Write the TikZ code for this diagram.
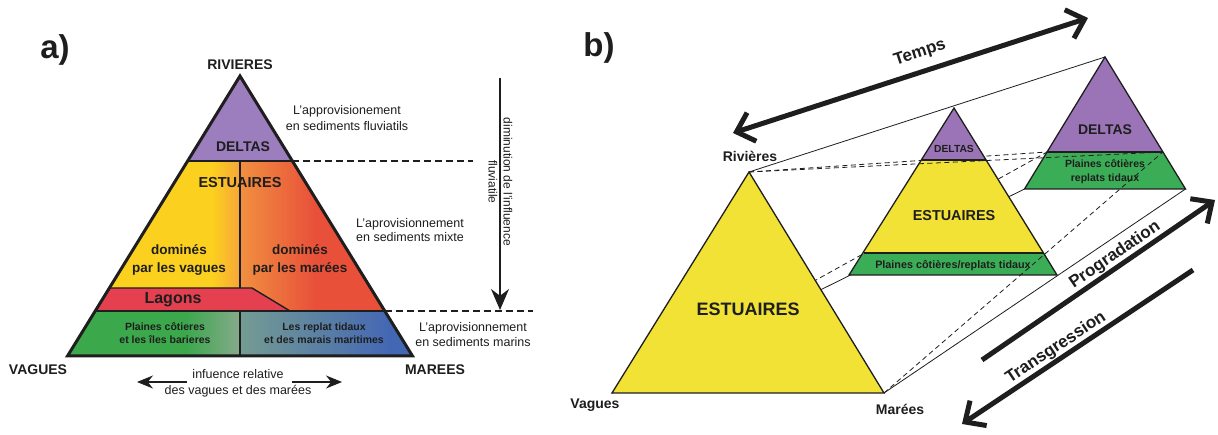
\documentclass[tikz,border=0pt]{standalone}
\usepackage{fontspec}
\setmainfont{Liberation Sans}
\usetikzlibrary{arrows.meta}
\newcommand{\myfs}[2]{\fontsize{#1}{#2}\selectfont}
\definecolor{apurple}{HTML}{9C7DBE}
\definecolor{ayellow}{HTML}{FCD01E}
\definecolor{aorangeL}{HTML}{F6A63A}
\definecolor{aorangeR}{HTML}{F19040}
\definecolor{ared}{HTML}{E8503A}
\definecolor{lagon}{HTML}{E4404F}
\definecolor{agreen}{HTML}{3BA84C}
\definecolor{agreenmid}{HTML}{86A98B}
\definecolor{ablmid}{HTML}{749C92}
\definecolor{ablue}{HTML}{4467B4}
\definecolor{byellow}{HTML}{F1E235}
\definecolor{bpurple}{HTML}{9A74B6}
\definecolor{bgreen}{HTML}{3CAD57}
\definecolor{ink}{HTML}{1E1E1E}
\tikzset{
  barb/.tip={Straight Barb[length=16pt,width=30pt]},
  smallhead/.tip={Stealth[length=16pt,width=13pt]},
  bighead/.tip={Stealth[length=21pt,width=18pt]}
}
\begin{document}
\begin{tikzpicture}[x=1pt,y=-1pt,
  txt/.style={inner sep=0pt, text=ink},
  tri/.style={draw=ink, line width=3pt, line join=miter},
  innerline/.style={draw=ink, line width=1.4pt},
  dashA/.style={draw=ink, line width=1.5pt, dash pattern=on 7pt off 4pt},
  conn/.style={draw=ink, line width=0.8pt},
  connd/.style={draw=ink, line width=0.8pt, dash pattern=on 5pt off 3.5pt},
  btri/.style={draw=ink, line width=1.3pt, line join=miter},
  bband/.style={draw=ink, line width=1.6pt},
  bigarrow/.style={draw=ink, line width=5pt}
]
\useasboundingbox (0,0) rectangle (1218,435);
\fill[white] (0,0) rectangle (1218,435);

% ---------------- panel a ----------------
\coordinate (aT) at (240,76);
\coordinate (aL) at (67.5,356);
\coordinate (aR) at (412.5,356);
\coordinate (dL) at (187.63,161);
\coordinate (dR) at (292.37,161);
\coordinate (gL) at (95.22,311);
\coordinate (gR) at (384.78,311);
\coordinate (lL) at (109.4,288);
\coordinate (lM) at (252,288);
\coordinate (lE) at (290,311);
\coordinate (dvT) at (240,161);
\coordinate (dvB) at (240,288);
\coordinate (bvT) at (240,311);
\coordinate (bvB) at (240,356);
\coordinate (dashE1) at (473,161);
\coordinate (dashE2) at (533,311);
\coordinate (vaTop) at (500,78);
\coordinate (vaTip) at (500,310);
\coordinate (hl1) at (187,382);
\coordinate (hl2) at (137,382);
\coordinate (hr1) at (292,382);
\coordinate (hr2) at (342,382);

\fill[apurple] (aT) -- (dL) -- (dR) -- cycle;
\begin{scope}
  \clip (dL) -- (dR) -- (gR) -- (gL) -- cycle;
  \fill[ayellow] (60,150) rectangle (212,320);
  \shade[left color=ayellow,right color=aorangeL] (212,150) rectangle (240,320);
  \shade[left color=aorangeR,right color=ared] (240,150) rectangle (315,320);
  \fill[ared] (315,150) rectangle (420,320);
\end{scope}
\fill[lagon] (lL) -- (lM) -- (lE) -- (gL) -- cycle;
\begin{scope}
  \clip (gL) -- (gR) -- (aR) -- (aL) -- cycle;
  \fill[agreen] (60,305) rectangle (185,360);
  \shade[left color=agreen,right color=agreenmid] (185,305) rectangle (240,360);
  \shade[left color=ablmid,right color=ablue] (240,305) rectangle (390,360);
  \fill[ablue] (390,305) rectangle (420,360);
\end{scope}
\draw[innerline] (dL) -- (dR);
\draw[innerline] (dvT) -- (dvB);
\draw[innerline] (lL) -- (lM) -- (lE);
\draw[innerline] (gL) -- (gR);
\draw[innerline] (bvT) -- (bvB);
\draw[tri] (aT) -- (aL) -- (aR) -- cycle;
\draw[dashA] (dR) -- (dashE1);
\draw[dashA] (gR) -- (dashE2);
\draw[draw=ink, line width=1.6pt, -{bighead}] (vaTop) -- (vaTip);
\draw[draw=ink, line width=1.3pt, -{smallhead}] (hl1) -- (hl2);
\draw[draw=ink, line width=1.3pt, -{smallhead}] (hr1) -- (hr2);

\node[txt, font=\myfs{33}{36}\bfseries] (la) at (55,50) {a)};
\node[txt, font=\myfs{14}{16}\bfseries] (riv) at (240,65) {RIVIERES};
\node[txt, font=\myfs{14}{16}\bfseries] (vag) at (38,370) {VAGUES};
\node[txt, font=\myfs{14}{16}\bfseries] (mar) at (435,370) {MAREES};
\node[txt, font=\myfs{14}{16}\bfseries] (deltasA) at (243,147) {DELTAS};
\node[txt, font=\myfs{14.5}{16}\bfseries] (estA) at (240,183) {ESTUAIRES};
\node[txt, font=\myfs{13.5}{18}\bfseries, align=center] (domV) at (179,260) {dominés\\par les vagues};
\node[txt, font=\myfs{13.5}{18}\bfseries, align=center] (domM) at (300,260) {dominés\\par les marées};
\node[txt, font=\myfs{16}{18}\bfseries] (lag) at (173,300) {Lagons};
\node[txt, font=\myfs{10.5}{13}\bfseries, align=center] (plA) at (165,333.5) {Plaines côtieres\\et les îles barieres};
\node[txt, font=\myfs{10.5}{13}\bfseries, align=center] (repA) at (324,333.5) {Les replat tidaux\\et des marais maritimes};
\node[txt, font=\myfs{12.5}{16}, align=center] (ap1) at (347,118) {L'approvisionement\\en sediments fluviatils};
\node[txt, font=\myfs{12.5}{14}, align=center] (ap2) at (410,230) {L'aprovisionnement\\en sediments mixte};
\node[txt, font=\myfs{12.5}{15}, align=center] (ap3) at (473,334.5) {L'aprovisionnement\\en sediments marins};
\node[txt, font=\myfs{12}{15}, align=center, rotate=-90] (dimi) at (500.5,182) {diminution de l'influence\\fluviatile};
\node[txt, font=\myfs{12.5}{16}, align=center] (infl) at (238,383) {infuence relative\\des vagues et des marées};

% ---------------- panel b ----------------
\coordinate (bA) at (749,172);
\coordinate (bV) at (612,393);
\coordinate (bM) at (884,393);
\coordinate (mA) at (954,108);
\coordinate (mL) at (849,275);
\coordinate (mR) at (1057,275);
\coordinate (mdL) at (921.6,160);
\coordinate (mdR) at (986.4,160);
\coordinate (mgL) at (863.7,253);
\coordinate (mgR) at (1044.3,253);
\coordinate (rA) at (1105,57);
\coordinate (rL) at (1024.5,189);
\coordinate (rR) at (1185.5,189);
\coordinate (rdL) at (1047.1,152);
\coordinate (rdR) at (1162.9,152);
\coordinate (tmA) at (733,133);
\coordinate (tmB) at (1088,18);
\coordinate (prA) at (982,360);
\coordinate (prB) at (1215,200);
\coordinate (trA) at (1193,270);
\coordinate (trB) at (962,424);

% connectors behind
\draw[conn] (bA) -- (rA);
\draw[conn] (bV) -- (rL);
\draw[conn] (bM) -- (rR);
\draw[connd] (bV) -- (rdL);
\draw[connd] (bA) -- (rdL);

% big triangle
\filldraw[btri, fill=byellow] (bA) -- (bV) -- (bM) -- cycle;
% medium triangle
\fill[bpurple] (mA) -- (mdL) -- (mdR) -- cycle;
\fill[byellow] (mdL) -- (mdR) -- (mgR) -- (mgL) -- cycle;
\fill[bgreen] (mgL) -- (mgR) -- (mR) -- (mL) -- cycle;
\draw[bband] (mdL) -- (mdR);
\draw[bband] (mgL) -- (mgR);
\draw[btri] (mA) -- (mL) -- (mR) -- cycle;
% right triangle
\fill[bpurple] (rA) -- (rdL) -- (rdR) -- cycle;
\fill[bgreen] (rdL) -- (rdR) -- (rR) -- (rL) -- cycle;
\draw[bband] (rdL) -- (rdR);
\draw[btri] (rA) -- (rL) -- (rR) -- cycle;

% connectors on top
\draw[connd] (bA) -- (rdR);
\draw[connd] (bM) -- (rdR);

% big arrows
\draw[bigarrow, {barb}-{barb}] (tmA) -- (tmB);
\draw[bigarrow, -{barb}] (prA) -- (prB);
\draw[bigarrow, -{barb}] (trA) -- (trB);

\node[txt, font=\myfs{33}{36}\bfseries] (lb) at (599,48) {b)};
\node[txt, font=\myfs{14}{16}\bfseries] (rivB) at (750,156) {Rivières};
\node[txt, font=\myfs{14}{16}\bfseries] (vagB) at (595,405) {Vagues};
\node[txt, font=\myfs{14}{16}\bfseries] (marB) at (900,409) {Marées};
\node[txt, font=\myfs{18}{20}\bfseries] (estB) at (748,309) {ESTUAIRES};
\node[txt, font=\myfs{10.3}{12}\bfseries] (delM) at (954,149) {DELTAS};
\node[txt, font=\myfs{14.4}{16}\bfseries] (estM) at (954,216) {ESTUAIRES};
\node[txt, font=\myfs{10.8}{12}\bfseries] (plM) at (953,266) {Plaines côtières/replats tidaux};
\node[txt, font=\myfs{14}{16}\bfseries] (delR) at (1105,130) {DELTAS};
\node[txt, font=\myfs{10.5}{14}\bfseries, align=center] (plR) at (1105,172) {Plaines côtières\\replats tidaux};
\node[txt, font=\myfs{17}{19}\bfseries, rotate=18] (temps) at (920,53) {Temps};
\node[txt, font=\myfs{17}{19}\bfseries, rotate=34.5] (prog) at (1115,255) {Progradation};
\node[txt, font=\myfs{17}{19}\bfseries, rotate=33.7] (trans) at (1056,348) {Transgression};
\end{tikzpicture}
\end{document}
